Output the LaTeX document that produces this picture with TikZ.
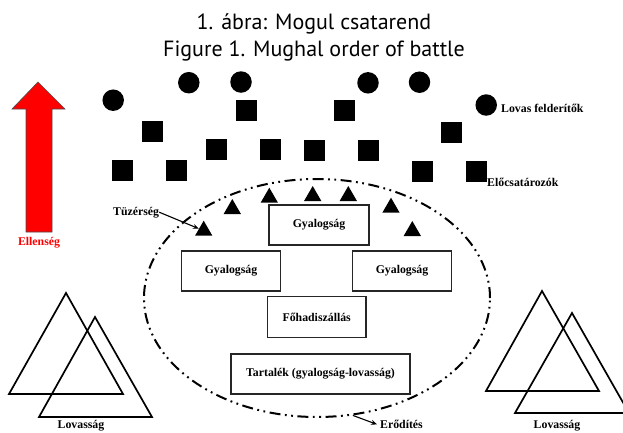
\documentclass[tikz,border=0pt]{standalone}
\usepackage{fontspec}
\setmainfont{Liberation Serif}
\newfontfamily\titlefont{PT Sans}
\usetikzlibrary{shapes.geometric,arrows.meta}
\definecolor{arrowred}{RGB}{255,0,0}
\begin{document}
\begin{tikzpicture}[x=1pt,y=-1pt,
  lbl/.style={font=\fontsize{11.8}{14}\selectfont\bfseries, inner sep=0pt},
  ttl/.style={font=\titlefont\fontsize{22}{26}\selectfont, inner sep=0pt, anchor=base},
  unit/.style={draw=black!85, line width=1.3pt, fill=white, font=\fontsize{11.8}{14}\selectfont\bfseries, inner sep=0pt, minimum height=40pt},
  scout/.style={circle, fill=black, minimum size=21.5pt, inner sep=0pt},
  skirm/.style={rectangle, fill=black, minimum size=21pt, inner sep=0pt},
  gun/.style={regular polygon, regular polygon sides=3, fill=black, minimum size=20pt, inner sep=0pt},
  fort/.style={ellipse, draw, line width=2pt, dash pattern=on 11pt off 4.5pt on 1.8pt off 4.5pt on 1.8pt off 4.5pt, inner sep=0pt, minimum width=346pt, minimum height=238pt},
  cav/.style={line width=1.7pt, line join=miter},
  pointer/.style={line width=1.1pt, -{Stealth[length=6pt,width=5pt]}},
]
\useasboundingbox (0,0) rectangle (623,432);
\clip (0,0) rectangle (623,432);

% title
\node[ttl] (t1) at (314,29.3) {1. ábra: Mogul csatarend};
\node[ttl] (t2) at (314,56.7) {Figure 1. Mughal order of battle};

% enemy arrow
\draw[fill=arrowred, draw=black!70, line width=0.6pt]
  (38,82) -- (65,109) -- (52,109) -- (52,232) -- (26,232) -- (26,109) -- (12,109) -- cycle;
\node[lbl, text=arrowred, anchor=base] (enemy) at (39,245) {Ellenség};

% fortification
\node[fort] (fortif) at (317,298) {};

% scouts
\node[scout] (c1) at (113.2,100.2) {};
\node[scout] (c2) at (188.8,82.7) {};
\node[scout] (c3) at (241,82) {};
\node[scout] (c4) at (368,82.8) {};
\node[scout] (c5) at (419.5,82.2) {};
\node[scout] (c6) at (486.2,105) {};
\node[lbl, anchor=base west] (scoutlbl) at (501,112.7) {Lovas felderítők};

% skirmishers
\node[skirm] (s1) at (152,131.3) {};
\node[skirm] (s2) at (246,110.2) {};
\node[skirm] (s3) at (216.8,149.7) {};
\node[skirm] (s4) at (270.7,149.7) {};
\node[skirm] (s5) at (122.7,170.7) {};
\node[skirm] (s6) at (176.3,170.7) {};
\node[skirm] (s7) at (344,110.8) {};
\node[skirm] (s8) at (314.8,150.3) {};
\node[skirm] (s9) at (368.8,150.3) {};
\node[skirm] (s10) at (451.7,132) {};
\node[skirm] (s11) at (422.3,171.7) {};
\node[skirm] (s12) at (476,171.7) {};
\node[lbl, anchor=base west] (skirmlbl) at (487,186.7) {Előcsatározók};

% artillery
\node[gun] (g1) at (203.7,230.7) {};
\node[gun] (g2) at (232.3,209) {};
\node[gun] (g3) at (269.3,197.7) {};
\node[gun] (g4) at (312.7,196) {};
\node[gun] (g5) at (348.3,196) {};
\node[gun] (g6) at (391,207.7) {};
\node[gun] (g7) at (412.3,231) {};
\node[lbl, anchor=base west] (gunlbl) at (113,215) {Tüzérség};
\draw[pointer] (gunlbl.east) -- (g1);

% units
\node[unit, minimum width=100pt] (inf1) at (319,225) {Gyalogság};
\node[unit, minimum width=99pt] (inf2) at (231,271) {Gyalogság};
\node[unit, minimum width=99.5pt] (inf3) at (402,271) {Gyalogság};
\node[unit, minimum width=98.7pt, minimum height=40.6pt] (hq) at (316.7,317) {Főhadiszállás};
\node[unit, minimum width=179pt] (res) at (320.5,374) {Tartalék (gyalogság-lovasság)};

% fortification label
\node[lbl, anchor=base west] (fortlbl) at (380,428.5) {Erődítés};
\draw[pointer] (fortif.-73) -- ([xshift=-3pt]fortlbl.west);

% cavalry
\draw[cav] (66,293) -- (123,394) -- (9,394) -- cycle;
\draw[cav] (95,317) -- (152,417) -- (39,417) -- cycle;
\node[lbl, anchor=base] (cavl) at (81,428.5) {Lovasság};
\draw[cav] (542,291) -- (599,391) -- (486,391) -- cycle;
\draw[cav] (572,313) -- (629,413) -- (515,413) -- cycle;
\node[lbl, anchor=base] (cavr) at (557,428) {Lovasság};
\end{tikzpicture}
\end{document}
